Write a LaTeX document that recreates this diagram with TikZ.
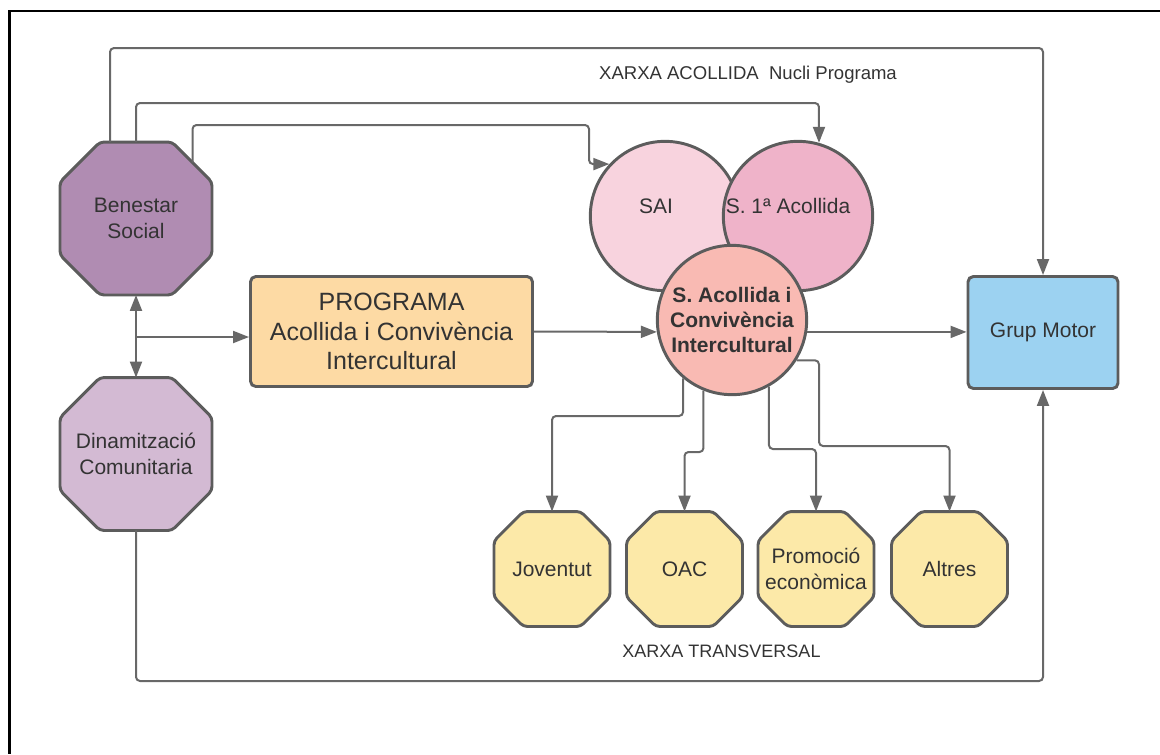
\documentclass[tikz,border=0pt]{standalone}
\usepackage{fontspec}
\setmainfont{Liberation Sans}
\usetikzlibrary{arrows.meta,calc,backgrounds}
\definecolor{txt}{HTML}{333333}
\definecolor{bord}{HTML}{5C5C5C}
\definecolor{lin}{HTML}{686868}
\definecolor{benc}{HTML}{B08CB2}
\definecolor{dinc}{HTML}{D3BAD3}
\definecolor{progc}{HTML}{FDDAA4}
\definecolor{saic}{HTML}{F8D3DE}
\definecolor{sonec}{HTML}{EFB3C9}
\definecolor{accc}{HTML}{F9BAB3}
\definecolor{gmc}{HTML}{9CD2F1}
\definecolor{yelc}{HTML}{FCE9A8}
\newcommand\octagonfor[3]{%
\begin{scope}[on background layer]
\filldraw[shapeline, fill=#3, rounded corners=3pt]
 ($(#1.north west)+(#2,0)$) -- ($(#1.north east)+(-#2,0)$) -- ($(#1.north east)+(0,-#2)$) -- ($(#1.south east)+(0,#2)$) -- ($(#1.south east)+(-#2,0)$) -- ($(#1.south west)+(#2,0)$) -- ($(#1.south west)+(0,#2)$) -- ($(#1.north west)+(0,-#2)$) -- cycle;
\end{scope}}
\begin{document}
\begin{tikzpicture}[x=0.75pt,y=-0.75pt,
  every node/.style={text=txt, font=\fontsize{15.75}{19}\selectfont, align=center},
  shapeline/.style={draw=bord, line width=2.2pt},
  octbig/.style={rectangle, inner sep=0pt, outer sep=1.1pt, minimum width=111.8pt, minimum height=112.5pt},
  octsmall/.style={rectangle, inner sep=0pt, outer sep=1.1pt, minimum width=84.8pt, minimum height=84pt},
  circ/.style={circle, shapeline, inner sep=0pt, minimum size=112pt},
  tipA/.tip={Triangle[length=12pt,width=9pt]},
  conn/.style={draw=lin, line width=1.5pt, rounded corners=3pt, -tipA},
  conn2/.style={draw=lin, line width=1.5pt, tipA-tipA},
  smalltxt/.style={font=\fontsize{13.9}{16}\selectfont}]
\useasboundingbox (0,0) rectangle (1160,754);
% frame
\draw[black, line width=1.5pt] (8,10.5) -- (1160,10.5);
\draw[black, line width=2pt] (9.5,10) -- (9.5,754);

% left octagons
\node[octbig] (ben) at (136,218.5) {Benestar\\Social};
\octagonfor{ben}{30pt}{benc}
\node[octbig] (din) at (136,454) {Dinamització\\Comunitaria};
\octagonfor{din}{30pt}{dinc}

% programa
\node[rectangle, rounded corners=4pt, shapeline, fill=progc, minimum width=211.5pt, minimum height=82.5pt,
  font=\fontsize{18.75}{22}\selectfont] (prog) at (391.5,331.5) {PROGRAMA\\Acollida i Convivència\\Intercultural};

% circles
\node[circ, fill=saic] (sai) at (665,216) {};
\node (saiT) at (656,206) {SAI};
\node[circ, fill=sonec] (s1) at (798,216) {};
\node (s1T) at (788,206) {S. 1ª Acollida};
\node[circ, fill=accc, font=\bfseries\fontsize{15.75}{19}\selectfont] (acc) at (732,320) {S. Acollida i\\Convivència\\Intercultural};

% grup motor
\node[rectangle, rounded corners=4pt, shapeline, fill=gmc, minimum width=112.5pt, minimum height=84pt] (gm) at (1043,332.5) {Grup Motor};

% yellow octagons
\node[octsmall] (jov) at (552,569) {Joventut};
\octagonfor{jov}{22pt}{yelc}
\node[octsmall] (oac) at (684.5,569) {OAC};
\octagonfor{oac}{22pt}{yelc}
\node[octsmall] (pro) at (816,569) {Promoció\\econòmica};
\octagonfor{pro}{22pt}{yelc}
\node[octsmall] (alt) at (949.5,569) {Altres};
\octagonfor{alt}{22pt}{yelc}

% labels
\node[smalltxt] (xa) at (748,75) {XARXA ACOLLIDA\ \ Nucli Programa};
\node[smalltxt, font=\fontsize{13.5}{16}\selectfont] (xt) at (721.5,651) {XARXA TRANSVERSAL};

% routing coordinates
\coordinate (r1) at (0,48);
\coordinate (r2) at (0,103);
\coordinate (c3) at (589,125);
\coordinate (rb) at (0,681);
\coordinate (j) at (136,337);
\coordinate (kj) at (0,416);
\coordinate (ko) at (0,452);
\coordinate (kp) at (0,449);
\coordinate (ka) at (819,446);
\coordinate (b1) at ($(ben.north)+(-19.5pt,0)$);
\coordinate (b3) at ($(ben.north east)+(-14.6pt,-15.4pt)$);

% connectors
\draw[conn] (b1) |- (gm.north |- r1) -- (gm.north);
\draw[conn] (ben.north) |- (s1.74 |- r2) -- (s1.74);
\draw[conn] (b3) |- (c3) |- (sai.137);
\draw[conn2] (ben.south) -- (din.north);
\draw[conn] (j) -- (prog.west |- j);
\draw[conn] (prog.east) -- (acc.189);
\draw[conn] (acc.351) -- (gm.west |- acc.351);
\draw[conn] (din.south) |- (gm.south |- rb) -- (gm.south);
\draw[conn] (acc.230) |- (jov.north |- kj) -- (jov.north);
\draw[conn] (acc.248) |- (oac.north |- ko) -- (oac.north);
\draw[conn] (acc.299) |- (pro.north |- kp) -- (pro.north);
\draw[conn] (acc.328) -| (ka) -| (alt.north);
\end{tikzpicture}
\end{document}
